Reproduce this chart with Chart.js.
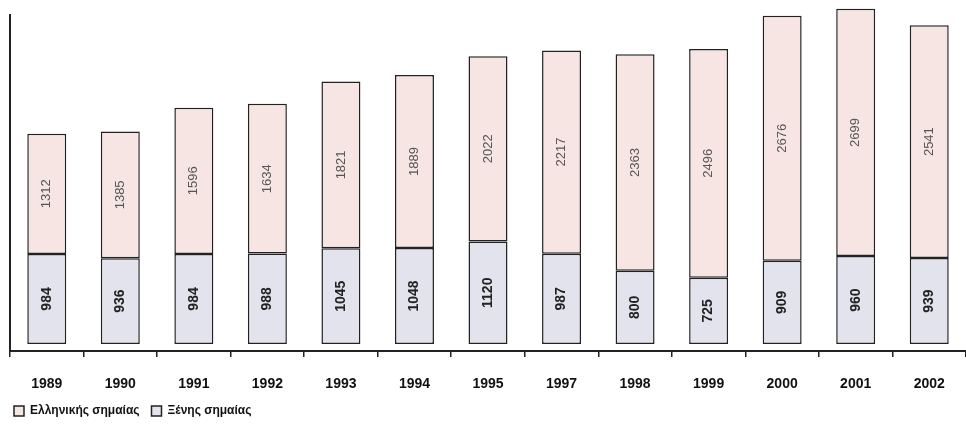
<!DOCTYPE html>
<html>
<head>
<meta charset="utf-8">
<script src="https://cdn.jsdelivr.net/npm/chart.js@4/dist/chart.umd.min.js"></script>
<style>
  html, body { margin: 0; padding: 0; background: #fff; }
  #wrap { width: 966px; height: 427px; }
</style>
</head>
<body>
<div id="wrap"><canvas id="c" width="966" height="427"></canvas></div>
<script>
// years on the x axis (1996 is missing in the source)
var years = ['1989', '1990', '1991', '1992', '1993', '1994', '1995', '1997', '1998', '1999', '2000', '2001', '2002'];
// ships under foreign flag (bottom part of each bar)
var foreignFlag = [984, 936, 984, 988, 1045, 1048, 1120, 987, 800, 725, 909, 960, 939];
// ships under Greek flag (top part)
var greekFlag = [1312, 1385, 1596, 1634, 1821, 1889, 2022, 2217, 2363, 2496, 2676, 2699, 2541];

var seriesNames = ['Ξένης σημαίας', 'Ελληνικής σημαίας'];

// writes the value turned upright in the middle of every segment
var barLabels = {
  id: 'barLabels',
  afterDatasetsDraw: function (chart) {
    var ctx = chart.ctx;
    chart.data.datasets.forEach(function (ds, i) {
      var meta = chart.getDatasetMeta(i);
      meta.data.forEach(function (bar, j) {
        var cy = (bar.y + bar.base) / 2;
        ctx.save();
        ctx.translate(bar.x, cy);
        ctx.rotate(-Math.PI / 2);
        ctx.textAlign = 'center';
        ctx.textBaseline = 'middle';
        ctx.fillStyle = i === 0 ? '#222' : '#555';
        ctx.font = (i === 0 ? 'bold 14px' : '13px') + ' "Liberation Sans", Arial, sans-serif';
        ctx.fillText(String(ds.data[j]), 0, 0);
        ctx.restore();
      });
    });
  }
};

new Chart(document.getElementById('c'), {
  type: 'bar',
  data: {
    labels: years,
    datasets: [{
      label: seriesNames[0],
      data: foreignFlag,
      backgroundColor: '#e3e3ee',
      borderColor: '#222',
      borderWidth: 1.5,
      borderSkipped: false,
      clip: false
    }, {
      label: seriesNames[1],
      data: greekFlag,
      backgroundColor: '#f6e5e2',
      borderColor: '#222',
      borderWidth: 1.5,
      borderSkipped: false,
      clip: false
    }]
  },
  options: {
    responsive: false,
    animation: false,
    layout: { padding: { left: 2, top: 15, right: 0, bottom: 0 } },
    datasets: { bar: { categoryPercentage: 1, barPercentage: 0.53 } },
    scales: {
      x: {
        stacked: true,
        afterFit: function (scale) { scale.height = 42; },
        grid: { display: true, drawOnChartArea: false, tickLength: 6, color: '#222', lineWidth: 1.5 },
        border: { display: true, color: '#222', width: 2 },
        ticks: { color: '#111', padding: 19, font: { family: '"Liberation Sans", Arial, sans-serif', size: 14, weight: 'bold' } }
      },
      y: {
        stacked: true,
        min: -76,
        max: 3592,
        grid: { display: false },
        border: { display: true, color: '#222', width: 2 },
        ticks: { display: false }
      }
    },
    plugins: {
      legend: {
        position: 'bottom',
        align: 'start',
        reverse: true,
        labels: {
          boxWidth: 10,
          boxHeight: 10,
          padding: 12,
          color: '#111',
          font: { family: '"Liberation Sans", Arial, sans-serif', size: 12, weight: 'bold' }
        }
      },
      tooltip: { enabled: false }
    }
  },
  plugins: [barLabels]
});
</script>
</body>
</html>
